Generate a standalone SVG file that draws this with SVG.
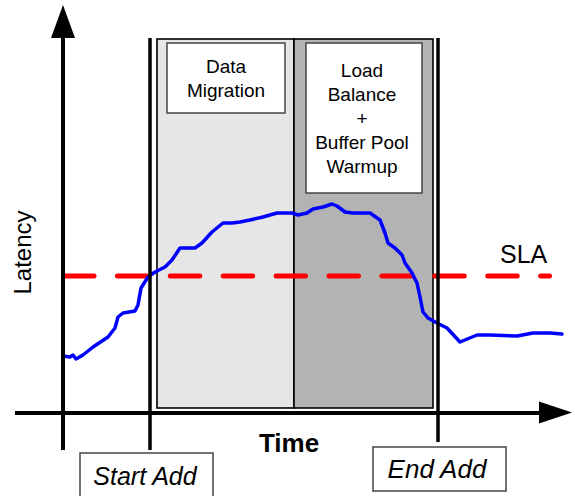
<svg xmlns="http://www.w3.org/2000/svg" width="575" height="496" viewBox="0 0 575 496">
<style>
.t{font-family:"Liberation Sans",Arial,sans-serif;fill:#000}
.box{fill:#fff;stroke:#444;stroke-width:1.5}
.ax{stroke:#000;stroke-width:4;fill:none}
.vl{stroke:#000;stroke-width:3.5;fill:none}
</style>
<rect width="575" height="496" fill="#fff"/>
<g id="phases">
<rect x="157" y="39" width="137" height="369" fill="#e6e6e6" stroke="#000" stroke-width="1.6"/>
<rect x="294" y="39" width="139" height="369" fill="#b3b3b3" stroke="#000" stroke-width="1.6"/>
</g>
<g id="data-migration">
<rect class="box" x="167" y="43" width="118" height="70"/>
<text class="t" font-size="19" text-anchor="middle"><tspan x="226" y="73">Data</tspan><tspan x="226" y="97">Migration</tspan></text>
</g>
<g id="load-balance">
<rect class="box" x="306" y="43" width="116" height="150"/>
<text class="t" font-size="19" text-anchor="middle"><tspan x="362" y="77">Load</tspan><tspan x="362" y="101">Balance</tspan><tspan x="362" y="125">+</tspan><tspan x="362" y="149">Buffer Pool</tspan><tspan x="362" y="173">Warmup</tspan></text>
</g>
<g id="sla">
<line x1="64.5" y1="276" x2="549.5" y2="276" stroke="#ff0000" stroke-width="5" stroke-linecap="round" stroke-dasharray="29.5 23.4"/>
<text class="t" x="500" y="263" font-size="25">SLA</text>
</g>
<g id="latency-curve">
<polyline fill="none" stroke="#0000ff" stroke-width="3.5" stroke-linejoin="round" stroke-linecap="round" points="63,356 70,357 73,355 76,359 83,355 93,347 108,337 115,328 118,317 123,313 135,311 138,305 141,288 148,277 155,272 165,267 172,260 180,248 195,248 202,243 212,232 223,223 232,223 240,222 250,220 263,217 277,213 292,213 298,215 307,213 313,209 323,207 332,204 337,206 345,212 353,213 370,213 380,220 385,233 388,243 395,248 402,255 405,263 412,273 417,283 420,297 423,312 428,318 437,323 447,328 460,342 477,335 490,335 517,336 533,333 550,333 562,334"/>
</g>
<g id="connectors">
<line class="vl" x1="150" y1="38" x2="150" y2="450"/>
<line class="vl" x1="438" y1="38" x2="438" y2="442"/>
<line class="ax" x1="63" y1="450" x2="63" y2="36"/>
<polygon points="63,5 51,38 75,38" fill="#000"/>
<line class="ax" x1="15" y1="413" x2="541" y2="413"/>
<polygon points="572,412.5 539,401.5 539,423.5" fill="#000"/>
</g>
<g id="axis-labels">
<text class="t" font-size="24" text-anchor="middle" transform="translate(31,252.5) rotate(-90)">Latency</text>
<text class="t" x="289" y="452" font-size="26" font-weight="bold" text-anchor="middle">Time</text>
</g>
<g id="start-add">
<rect class="box" x="80" y="453" width="133" height="44"/>
<text class="t" x="145" y="485" font-size="25" font-style="italic" text-anchor="middle">Start Add</text>
</g>
<g id="end-add">
<rect class="box" x="373" y="447" width="133" height="44"/>
<text class="t" x="437" y="478" font-size="26" font-style="italic" text-anchor="middle">End Add</text>
</g>
</svg>
